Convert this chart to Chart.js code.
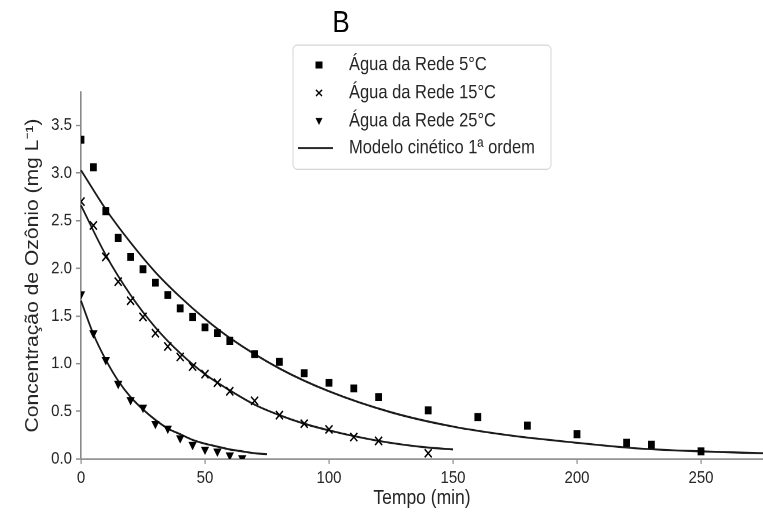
<!DOCTYPE html>
<html>
<head>
<meta charset="utf-8">
<script src="https://cdn.jsdelivr.net/npm/chart.js@4.4.0/dist/chart.umd.min.js"></script>
<style>
  html, body { margin: 0; padding: 0; background: #fff; overflow: hidden; }
  #wrap { width: 763px; height: 514px; overflow: hidden; }
  /* the source figure is stretched vertically, so draw it flatter and stretch it */
  #chart { transform: scaleY(1.1708); transform-origin: 0 0; }
</style>
</head>
<body>
<div id="wrap"><canvas id="chart" width="763" height="439"></canvas></div>
<script>
// measured points
const times5 = [0, 5, 10, 15, 20, 25, 30, 35, 40, 45, 50, 55, 60, 70, 80, 90, 100, 110, 120, 140, 160, 180, 200, 220, 230, 250]
const conc5 = [3.35, 3.06, 2.60, 2.32, 2.12, 1.99, 1.85, 1.72, 1.58, 1.49, 1.38, 1.32, 1.24, 1.10, 1.02, 0.90, 0.80, 0.74, 0.65, 0.51, 0.44, 0.35, 0.26, 0.17, 0.15, 0.08]

const times15 = [0, 5, 10, 15, 20, 25, 30, 35, 40, 45, 50, 55, 60, 70, 80, 90, 100, 110, 120, 140]
const conc15 = [2.70, 2.45, 2.12, 1.86, 1.66, 1.49, 1.32, 1.18, 1.07, 0.97, 0.89, 0.80, 0.71, 0.61, 0.46, 0.37, 0.31, 0.23, 0.19, 0.06]

const times25 = [0, 5, 10, 15, 20, 25, 30, 35, 40, 45, 50, 55, 60, 65]
const conc25 = [1.73, 1.32, 1.04, 0.79, 0.62, 0.54, 0.37, 0.32, 0.22, 0.15, 0.10, 0.08, 0.04, 0.01]

// model curves
const modelTimes5 = [0, 10, 20, 30, 40, 50, 60, 80, 100, 125, 150, 175, 200, 225, 250, 275]
const model5 = [3.03, 2.62, 2.27, 1.96, 1.70, 1.47, 1.27, 0.95, 0.71, 0.49, 0.34, 0.24, 0.17, 0.11, 0.08, 0.06]

const modelTimes15 = [0, 10, 20, 30, 40, 50, 60, 70, 80, 90, 100, 110, 120, 130, 140, 150]
const model15 = [2.66, 2.14, 1.72, 1.38, 1.11, 0.89, 0.72, 0.57, 0.46, 0.37, 0.30, 0.24, 0.19, 0.15, 0.12, 0.10]

const modelTimes25 = [0, 5, 10, 15, 20, 25, 30, 35, 40, 45, 50, 55, 60, 65, 70, 75]
const model25 = [1.66, 1.31, 1.04, 0.82, 0.65, 0.52, 0.41, 0.32, 0.26, 0.20, 0.16, 0.13, 0.10, 0.08, 0.06, 0.05]

const xTicks = [0, 50, 100, 150, 200, 250]
const yTicks = [0, 0.5, 1.0, 1.5, 2.0, 2.5, 3.0, 3.5]

const legendLabels = ['Água da Rede 5°C', 'Água da Rede 15°C', 'Água da Rede 25°C', 'Modelo cinético 1ª ordem']

const FONT = "'Liberation Sans', Arial, sans-serif"
const INK = '#262626'
const AXIS = '#8a8a8a'

const toXY = (ts, vs) => ts.map((t, i) => ({ x: t, y: vs[i] }))

const modelLine = (ts, vs) => ({
  data: toXY(ts, vs),
  showLine: true,
  pointRadius: 0,
  borderColor: '#1a1a1a',
  borderWidth: 1.7,
  cubicInterpolationMode: 'monotone',
  clip: false
})

// title "B" and the boxed legend
const annotations = {
  id: 'annotations',
  afterDraw(chart) {
    const ctx = chart.ctx
    ctx.save()
    ctx.fillStyle = '#000'
    ctx.font = `26px ${FONT}`
    ctx.textAlign = 'center'
    ctx.textBaseline = 'middle'
    ctx.fillText('B', 341, 20.5)

    // legend box
    const bx = 293, by = 38.5, bw = 258, bh = 106
    ctx.beginPath()
    ctx.roundRect(bx, by, bw, bh, 4)
    ctx.fillStyle = 'rgba(255,255,255,0.85)'
    ctx.fill()
    ctx.strokeStyle = '#d6d6d6'
    ctx.lineWidth = 1
    ctx.stroke()

    const rows = [55.5, 79.4, 103.3, 126.4]
    const mx = 319
    ctx.fillStyle = '#000'
    ctx.strokeStyle = '#000'
    // square
    ctx.fillRect(mx - 3.5, rows[0] - 3, 7, 6)
    // x
    ctx.lineWidth = 1.3
    ctx.beginPath()
    ctx.moveTo(mx - 3, rows[1] - 2.6); ctx.lineTo(mx + 3, rows[1] + 2.6)
    ctx.moveTo(mx + 3, rows[1] - 2.6); ctx.lineTo(mx - 3, rows[1] + 2.6)
    ctx.stroke()
    // triangle down
    ctx.beginPath()
    ctx.moveTo(mx - 3.5, rows[2] - 2.6)
    ctx.lineTo(mx + 3.5, rows[2] - 2.6)
    ctx.lineTo(mx, rows[2] + 3.4)
    ctx.closePath()
    ctx.fill()
    // line
    ctx.strokeStyle = '#1a1a1a'
    ctx.lineWidth = 1.6
    ctx.beginPath()
    ctx.moveTo(298, rows[3]); ctx.lineTo(333, rows[3])
    ctx.stroke()

    ctx.fillStyle = INK
    ctx.font = `16.5px ${FONT}`
    ctx.textAlign = 'left'
    legendLabels.forEach((label, i) => ctx.fillText(label, 349, rows[i]))
    ctx.restore()
  }
}

new Chart(document.getElementById('chart'), {
  type: 'scatter',
  data: {
    datasets: [
      {
        data: toXY(times5, conc5),
        pointStyle: 'rect',
        pointRadius: 4.8,
        backgroundColor: '#000',
        borderWidth: 0,
        clip: 0
      },
      {
        data: toXY(times15, conc15),
        pointStyle: 'crossRot',
        pointRadius: 5,
        borderColor: '#000',
        borderWidth: 1.4,
        clip: 0
      },
      {
        data: toXY(times25, conc25),
        pointStyle: 'triangle',
        rotation: 180,
        pointRadius: 4.8,
        backgroundColor: '#000',
        borderWidth: 0,
        clip: 0
      },
      modelLine(modelTimes5, model5),
      modelLine(modelTimes15, model15),
      modelLine(modelTimes25, model25)
    ]
  },
  options: {
    responsive: false,
    animation: false,
    devicePixelRatio: 2,
    layout: { autoPadding: false, padding: { top: 78.6, right: 0, bottom: 0, left: 0 } },
    plugins: {
      legend: { display: false },
      tooltip: { enabled: false }
    },
    scales: {
      x: {
        type: 'linear',
        min: 0,
        max: 275,
        afterBuildTicks: axis => { axis.ticks = xTicks.map(v => ({ value: v })) },
        afterFit: axis => {
          axis.height = 47
          axis.paddingLeft = 0
          axis.paddingRight = 0
        },
        grid: { drawOnChartArea: false, drawTicks: true, tickLength: 4.3, color: AXIS, lineWidth: 1.2 },
        border: { display: true, color: AXIS, width: 1.4 },
        ticks: { color: INK, font: { family: FONT, size: 15 }, padding: 3, maxRotation: 0 },
        title: {
          display: true,
          text: 'Tempo (min)',
          color: INK,
          font: { family: FONT, size: 17.5 },
          padding: { top: 0, bottom: 3 }
        }
      },
      y: {
        type: 'linear',
        min: 0,
        max: 3.85,
        afterBuildTicks: axis => { axis.ticks = yTicks.map(v => ({ value: v })) },
        afterFit: axis => {
          axis.width = 81
          axis.paddingTop = 0
          axis.paddingBottom = 0
        },
        grid: { drawOnChartArea: false, drawTicks: true, tickLength: 5, color: AXIS, lineWidth: 1.2 },
        border: { display: true, color: AXIS, width: 1.6 },
        ticks: {
          color: INK,
          font: { family: FONT, size: 15 },
          padding: 4,
          callback: v => v.toFixed(1)
        },
        title: {
          display: true,
          text: 'Concentração de Ozônio (mg L⁻¹)',
          color: INK,
          font: { family: FONT, size: 18 },
          padding: { top: 22, bottom: 0 }
        }
      }
    }
  },
  plugins: [annotations]
})
</script>
</body>
</html>
